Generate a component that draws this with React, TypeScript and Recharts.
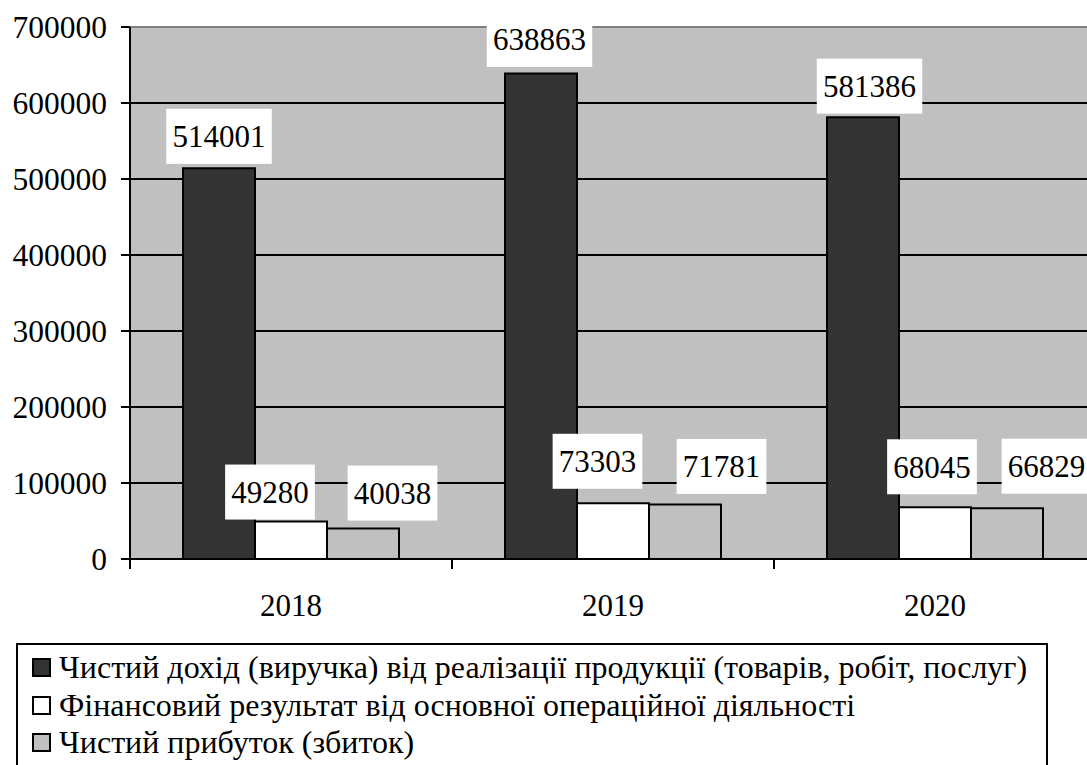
import React from "react";
import {
  Bar,
  BarChart,
  CartesianGrid,
  LabelList,
  Legend,
  ReferenceLine,
  XAxis,
  YAxis,
} from "recharts";

const years = ["2018", "2019", "2020"];
const netIncome = [514001, 638863, 581386];
const operatingResult = [49280, 73303, 68045];
const netProfit = [40038, 71781, 66829];
const yTicks = [0, 100000, 200000, 300000, 400000, 500000, 600000, 700000];

const seriesNames = [
  "Чистий дохід (виручка) від реалізації продукції (товарів, робіт, послуг)",
  "Фінансовий результат від основної операційної діяльності",
  "Чистий прибуток (збиток)",
];

const data = years.map((year, i) => ({
  year,
  income: netIncome[i],
  operating: operatingResult[i],
  profit: netProfit[i],
}));

const FONT = "'Liberation Serif', 'Times New Roman', serif";
const BAND = 322;

// label nudges (px) so the boxes don't collide, like in the original
const labelShift: Record<string, { dx: number[]; rise: number[] }> = {
  income: { dx: [0, -1.5, 6.5], rise: [32, 34, 31] },
  operating: { dx: [-21, -15.5, -3], rise: [29.5, 42, 40.5] },
  profit: { dx: [29.5, 36.5, 39.5], rise: [35.5, 38, 42] },
};

const makeLabel = (key: string) => (props: any) => {
  const { x, y, width, value, index } = props;
  const shift = labelShift[key];
  const cx = Number(x) + Number(width) / 2 + shift.dx[index];
  const cy = Number(y) - shift.rise[index];
  const text = String(value);
  const w = text.length * 15.75 + 11;
  const top = Math.max(cy - 27.5, 25);
  const bottom = cy + 27.5;
  return (
    <g>
      <rect x={cx - w / 2} y={top} width={w} height={bottom - top} fill="#ffffff" />
      <text
        x={cx}
        y={cy}
        dy="0.35em"
        textAnchor="middle"
        fontSize={31}
        fontFamily={FONT}
        fill="#000"
      >
        {text}
      </text>
    </g>
  );
};

const YearTick = (props: any) => {
  const { x, y, payload } = props;
  return (
    <g>
      <line x1={x - BAND / 2} y1={y} x2={x - BAND / 2} y2={y + 10} stroke="#000" strokeWidth={2} />
      <text
        x={x}
        y={y + 46}
        dy="0.35em"
        textAnchor="middle"
        fontSize={31}
        fontFamily={FONT}
        fill="#000"
      >
        {payload.value}
      </text>
    </g>
  );
};

const legendColors = ["#333333", "#ffffff", "#c0c0c0"];

const LegendBox = () => (
  <div
    style={{
      border: "2px solid #000",
      boxSizing: "border-box",
      width: 1032,
      height: 140,
      padding: "4px 0 0 14px",
      fontFamily: FONT,
      fontSize: 32,
      color: "#000",
      background: "#fff",
    }}
  >
    {seriesNames.map((name, i) => (
      <div key={name} style={{ display: "flex", alignItems: "center", height: 37.5, whiteSpace: "nowrap" }}>
        <span
          style={{
            display: "inline-block",
            width: 19,
            height: 19,
            boxSizing: "border-box",
            border: "2px solid #000",
            background: legendColors[i],
            marginRight: 8,
          }}
        />
        <span>{name}</span>
      </div>
    ))}
  </div>
);

export default function App() {
  return (
    <div
      style={{
        position: "absolute",
        left: 0,
        top: 0,
        width: 1087,
        height: 765,
        overflow: "hidden",
        background: "#fff",
      }}
    >
      <BarChart
        width={1110}
        height={765}
        data={data}
        margin={{ top: 27, right: 14, left: 0, bottom: 146 }}
        barCategoryGap={53}
        barGap={0}
      >
        <CartesianGrid vertical={false} stroke="#000" strokeWidth={2} fill="#c0c0c0" />
        <ReferenceLine y={700000} stroke="#808080" strokeWidth={2} />
        <XAxis
          dataKey="year"
          height={60}
          tickLine={false}
          tickSize={0}
          tickMargin={0}
          axisLine={{ stroke: "#000", strokeWidth: 2 }}
          tick={<YearTick />}
        />
        <YAxis
          width={130}
          domain={[0, 700000]}
          ticks={yTicks}
          tickSize={9}
          tickMargin={14}
          tickLine={{ stroke: "#000", strokeWidth: 2 }}
          axisLine={{ stroke: "#000", strokeWidth: 2 }}
          tick={{ fill: "#000", fontSize: 31.5, fontFamily: FONT }}
        />
        <Legend
          layout="horizontal"
          verticalAlign="middle"
          align="center"
          content={<LegendBox />}
          wrapperStyle={{ left: 16, top: 643, width: 1032, height: 140 }}
        />
        <Bar dataKey="income" fill="#333333" stroke="#000" strokeWidth={2} isAnimationActive={false}>
          <LabelList dataKey="income" content={makeLabel("income")} />
        </Bar>
        <Bar dataKey="operating" fill="#ffffff" stroke="#000" strokeWidth={2} isAnimationActive={false}>
          <LabelList dataKey="operating" content={makeLabel("operating")} />
        </Bar>
        <Bar dataKey="profit" fill="#c0c0c0" stroke="#000" strokeWidth={2} isAnimationActive={false}>
          <LabelList dataKey="profit" content={makeLabel("profit")} />
        </Bar>
      </BarChart>
    </div>
  );
}
